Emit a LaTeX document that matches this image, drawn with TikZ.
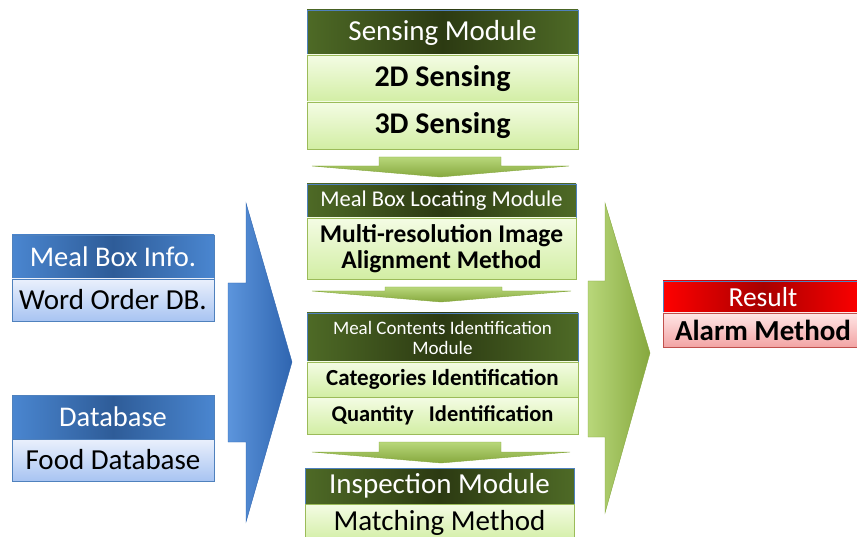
\documentclass[tikz,border=0pt]{standalone}
\usepackage{fontspec}
\setmainfont{Carlito}
\usetikzlibrary{positioning}
\definecolor{hdgreen}{HTML}{4E6A26}
\definecolor{hdgreendk}{HTML}{2C3A12}
\definecolor{rowgreen}{HTML}{F4FCE4}
\definecolor{rowgreendk}{HTML}{D2EEA4}
\definecolor{edgegreen}{HTML}{9BBB59}
\definecolor{hdblue}{HTML}{4A86D0}
\definecolor{hdbluedk}{HTML}{2E5C98}
\definecolor{rowblue}{HTML}{EAF0FC}
\definecolor{rowbluedk}{HTML}{A8C4F2}
\definecolor{edgeblue}{HTML}{4F81BD}
\definecolor{hdred}{HTML}{FF0000}
\definecolor{hdreddk}{HTML}{A80000}
\definecolor{rowred}{HTML}{FFE6E6}
\definecolor{rowreddk}{HTML}{F2A4A4}
\definecolor{edgered}{HTML}{C0504D}
\definecolor{arrgreen}{HTML}{B8D77A}
\definecolor{arrgreendk}{HTML}{86A83E}
\definecolor{arrblue}{HTML}{5C95DC}
\definecolor{arrbluedk}{HTML}{2F65B0}
\begin{document}
\begin{tikzpicture}[x=1pt,y=-1pt,
  box/.style={inner sep=0pt,outer sep=0pt,align=center,line width=0.6pt},
  greenhead/.style={box,draw=edgeblue,text=white,left color=hdgreen,right color=hdgreen,middle color=hdgreendk},
  greenrow/.style={box,draw=edgegreen,top color=rowgreen,bottom color=rowgreendk},
  bluehead/.style={box,draw=edgeblue,text=white,left color=hdblue,right color=hdblue,middle color=hdbluedk},
  bluerow/.style={box,draw=edgeblue,top color=rowblue,bottom color=rowbluedk},
  redhead/.style={box,draw=edgeblue,text=white,left color=hdred,right color=hdred,middle color=hdreddk},
  redrow/.style={box,draw=edgered,top color=rowred,bottom color=rowreddk},
  downarr/.style={draw=arrgreendk,line width=0.4pt,top color=arrgreen,bottom color=arrgreendk}]
\useasboundingbox(0,0)rectangle(857,537);
% sensing module
\node[greenhead,anchor=north west,minimum width=271,minimum height=45,font=\fontsize{29}{31}\selectfont](sense)at(307,10){Sensing Module};
\node[greenrow,below=0pt of sense,minimum width=271,minimum height=47,font=\fontsize{30}{32}\selectfont\bfseries](sense2d){2D Sensing};
\node[greenrow,below=0pt of sense2d,minimum width=271,minimum height=47,font=\fontsize{30}{32}\selectfont\bfseries](sense3d){3D Sensing};
% meal box locating module
\node[greenhead,anchor=north west,minimum width=269,minimum height=34,font=\fontsize{22.5}{24}\selectfont](locate)at(307,184){Meal Box Locating Module};
\node[greenrow,below=0pt of locate,minimum width=269,minimum height=61,font=\fontsize{25.5}{26}\selectfont\bfseries](align){Multi-resolution Image\\Alignment Method};
% meal contents identification module
\node[greenhead,anchor=north west,minimum width=271,minimum height=49,font=\fontsize{19}{20}\selectfont](ident)at(307,313){Meal Contents Identification\\Module};
\node[greenrow,below=0pt of ident,minimum width=271,minimum height=35,font=\fontsize{23}{25}\selectfont\bfseries](categ){Categories Identification};
\node[greenrow,below=0pt of categ,minimum width=271,minimum height=37,font=\fontsize{22.5}{24}\selectfont\bfseries](quant){Quantity\ \ \ Identification};
% inspection module
\node[greenhead,anchor=north west,minimum width=269,minimum height=36,font=\fontsize{29}{31}\selectfont](inspect)at(305,468){Inspection Module};
\node[greenrow,below=0pt of inspect,minimum width=269,minimum height=38,font=\fontsize{29}{31}\selectfont](match){Matching Method};
% inputs on the left
\node[bluehead,anchor=north west,minimum width=202,minimum height=44,font=\fontsize{28.5}{30}\selectfont](boxinfo)at(12,235){Meal Box Info.};
\node[bluerow,below=0pt of boxinfo,minimum width=202,minimum height=42,font=\fontsize{29}{31}\selectfont](orderdb){Word Order DB.};
\node[bluehead,anchor=north west,minimum width=202,minimum height=44,font=\fontsize{28.5}{30}\selectfont](dbase)at(12,395){Database};
\node[bluerow,below=0pt of dbase,minimum width=202,minimum height=42,font=\fontsize{29}{31}\selectfont](fooddb){Food Database};
% result on the right
\node[redhead,anchor=north west,minimum width=200,minimum height=32,font=\fontsize{27.5}{29}\selectfont](result)at(663,281){Result};
\node[redrow,below=0pt of result,minimum width=200,minimum height=34,font=\fontsize{29}{31}\selectfont\bfseries](alarm){Alarm Method};
% flow arrows
\draw[downarr](379,157)--(501,157)--(501,166)--(569,166)--(440,177)--(312,166)--(379,166)--cycle;
\draw[downarr](385,287)--(502,287)--(502,291)--(571,291)--(441,302)--(312,291)--(385,291)--cycle;
\draw[downarr](379,442)--(501,442)--(501,452)--(570,452)--(441,463)--(312,452)--(379,452)--cycle;
\draw[draw=arrbluedk,line width=0.4pt,left color=arrblue,right color=arrbluedk]
(228,283)--(246,283)--(246,203)--(292,362)--(246,522)--(246,442)--(228,442)--cycle;
\draw[draw=arrgreendk,line width=0.4pt,left color=arrgreen,right color=arrgreendk]
(588,281)--(605,281)--(605,203)--(650,353)--(605,513)--(605,437)--(588,437)--cycle;
\end{tikzpicture}
\end{document}
